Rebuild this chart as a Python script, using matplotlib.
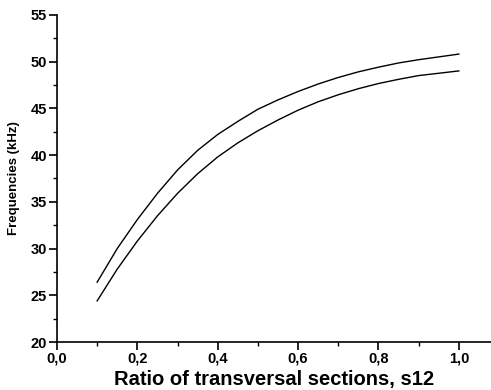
import matplotlib
matplotlib.use("Agg")
import matplotlib.pyplot as plt
from matplotlib.ticker import MultipleLocator, FuncFormatter

# ratio s12 and the two frequency curves (kHz)
s12 = [0.1, 0.15, 0.2, 0.25, 0.3, 0.35, 0.4, 0.45, 0.5, 0.55, 0.6, 0.65,
       0.7, 0.75, 0.8, 0.85, 0.9, 0.95, 1.0]
freq_upper = [26.4, 30.0, 33.1, 35.9, 38.4, 40.5, 42.2, 43.6, 44.9, 45.9, 46.8, 47.6,
              48.3, 48.9, 49.4, 49.85, 50.2, 50.5, 50.8]
freq_lower = [24.4, 27.8, 30.8, 33.5, 35.9, 38.0, 39.8, 41.3, 42.6, 43.75, 44.8, 45.7,
              46.45, 47.1, 47.65, 48.1, 48.5, 48.75, 49.0]

plt.rcParams['font.family'] = ['Liberation Sans', 'DejaVu Sans']

fig = plt.figure(figsize=(4.91, 3.9), dpi=100)
ax = fig.add_axes([0.116, 0.123, 0.884, 0.839])

ax.plot(s12, freq_upper, color='black', lw=1.0, solid_joinstyle='round')
ax.plot(s12, freq_lower, color='black', lw=1.0, solid_joinstyle='round')

ax.set_xlim(0, 1.08)
ax.set_ylim(20, 55)
ax.xaxis.set_major_locator(MultipleLocator(0.2))
ax.xaxis.set_minor_locator(MultipleLocator(0.1))
ax.yaxis.set_major_locator(MultipleLocator(5))
ax.yaxis.set_minor_locator(MultipleLocator(2.5))
ax.xaxis.set_major_formatter(FuncFormatter(lambda v, p: f"{v:.1f}".replace('.', ',')))

for s in ['top', 'right']:
    ax.spines[s].set_visible(False)
ax.spines['left'].set_linewidth(1.2)
ax.spines['bottom'].set_linewidth(1.2)
ax.tick_params(which='major', direction='out', length=6, width=1.2, labelsize=10.5, pad=1)
ax.tick_params(which='minor', direction='out', length=3, width=1.0)
for lab in ax.get_xticklabels() + ax.get_yticklabels():
    lab.set_fontweight('heavy')

ax.set_xlabel('Ratio of transversal sections, s12', fontsize=14.5, fontweight='heavy', labelpad=3)
ax.set_ylabel('Frequencies (kHz)', fontsize=9.5, fontweight='heavy', labelpad=8)

fig.savefig('out.png', dpi=100)
